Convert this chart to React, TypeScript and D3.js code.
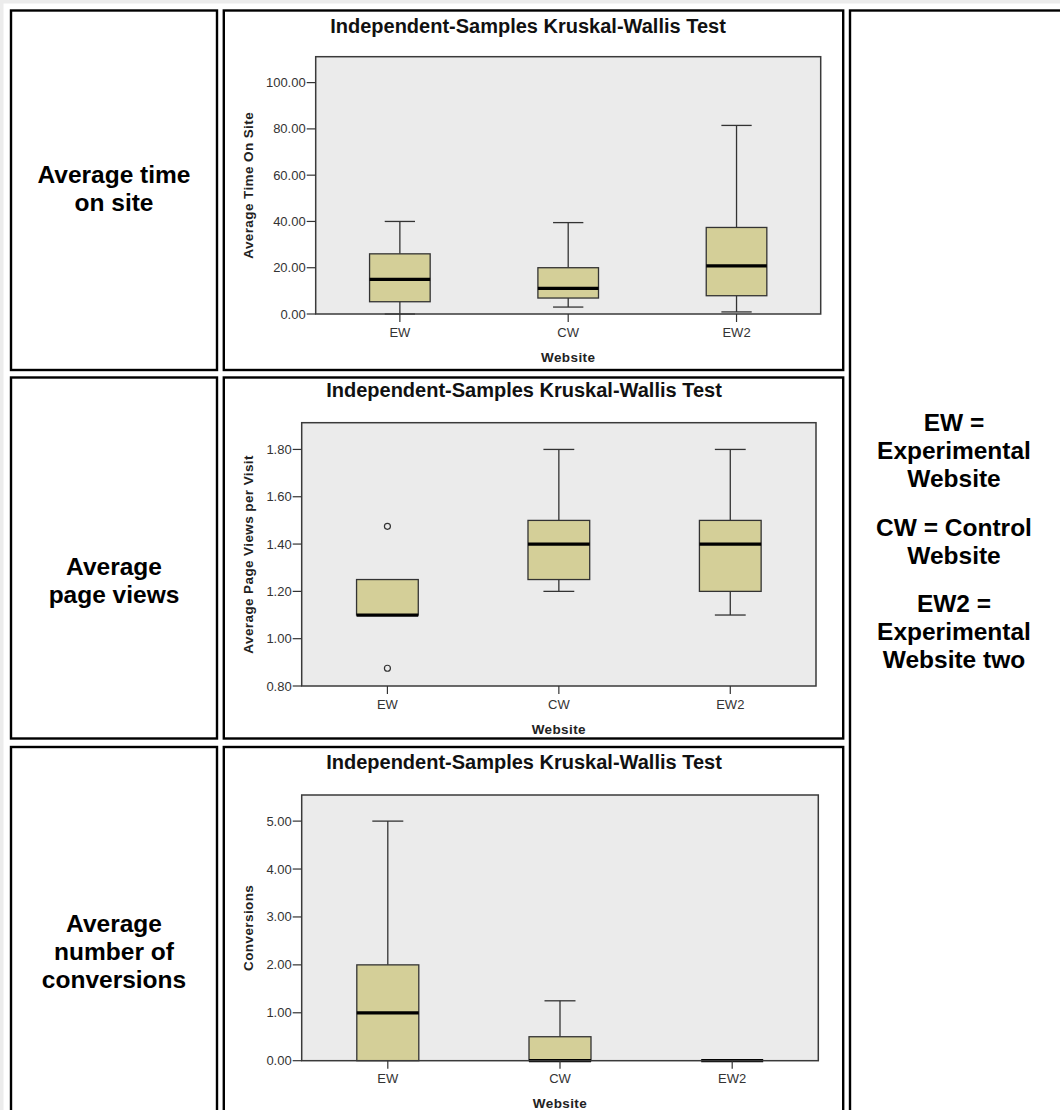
import React from "react";
import * as d3 from "d3";

const websites = ["EW", "CW", "EW2"];

// [min, q1, median, q3, max] per website
const timeOnSite = [
  [0, 5.3, 15, 26, 40],
  [3, 6.9, 11.1, 20, 39.5],
  [0.9, 7.9, 20.8, 37.4, 81.5],
];
const timeTicks = [0, 20, 40, 60, 80, 100];

const pageViews = [
  [1.1, 1.1, 1.1, 1.25, 1.25],
  [1.2, 1.25, 1.4, 1.5, 1.8],
  [1.1, 1.2, 1.4, 1.5, 1.8],
];
const pageViewOutliers = [[1.475, 0.875], [], []];
const pageViewTicks = [0.8, 1.0, 1.2, 1.4, 1.6, 1.8];

const conversions = [
  [0, 0, 1, 2, 5],
  [0, 0, 0, 0.5, 1.25],
  [0, 0, 0, 0, 0],
];
const conversionTicks = [0, 1, 2, 3, 4, 5];

const rowLabels = [
  ["Average time", "on site"],
  ["Average", "page views"],
  ["Average", "number of", "conversions"],
];
const legendLines = ["EW =", "Experimental", "Website", "", "CW = Control", "Website", "", "EW2 =", "Experimental", "Website two"];

const FONT = "'Liberation Sans', Arial, Helvetica, sans-serif";

interface BoxChartProps {
  frame: [number, number, number, number]; // x0, y0, x1, y1
  domain: [number, number];
  ticks: number[];
  stats: number[][];
  outliers?: number[][];
  yTitle: string;
  titleX: number;
  titleY: number;
}

const BoxChart: React.FC<BoxChartProps> = ({ frame, domain, ticks, stats, outliers, yTitle, titleX, titleY }) => {
  const [x0, y0, x1, y1] = frame;
  const y = d3.scaleLinear().domain(domain).range([y1, y0]);
  const x = d3.scaleBand().domain(websites).range([x0, x1]);
  const bw = x.bandwidth() * 0.36;
  const fmt = d3.format(".2f");

  return (
    <g fontFamily={FONT}>
      <text x={titleX} y={titleY} textAnchor="middle" fontSize={20} fontWeight="bold" fill="#111">
        Independent-Samples Kruskal-Wallis Test
      </text>
      <rect x={x0} y={y0} width={x1 - x0} height={y1 - y0} fill="#ebebeb" />
      {stats.map((s, i) => {
        const cx = x(websites[i])! + x.bandwidth() / 2;
        const [mn, q1, md, q3, mx] = s;
        return (
          <g key={i}>
            {mx > q3 && (
              <g stroke="#333" strokeWidth={1.3}>
                <line x1={cx} x2={cx} y1={y(q3)} y2={y(mx)} />
                <line x1={cx - bw / 4} x2={cx + bw / 4} y1={y(mx)} y2={y(mx)} />
              </g>
            )}
            {mn < q1 && (
              <g stroke="#333" strokeWidth={1.3}>
                <line x1={cx} x2={cx} y1={y(q1)} y2={y(mn)} />
                <line x1={cx - bw / 4} x2={cx + bw / 4} y1={y(mn)} y2={y(mn)} />
              </g>
            )}
            {q3 > q1 && (
              <rect x={cx - bw / 2} y={y(q3)} width={bw} height={y(q1) - y(q3)} fill="#d4cf98" stroke="#333" strokeWidth={1.3} />
            )}
            <line x1={cx - bw / 2} x2={cx + bw / 2} y1={y(md)} y2={y(md)} stroke="#000" strokeWidth={3.2} />
            {(outliers?.[i] || []).map((o, j) => (
              <circle key={j} cx={cx} cy={y(o)} r={3} fill="none" stroke="#333" strokeWidth={1.2} />
            ))}
          </g>
        );
      })}
      <rect x={x0} y={y0} width={x1 - x0} height={y1 - y0} fill="none" stroke="#3a3a3a" strokeWidth={1.5} />
      {ticks.map((t) => (
        <g key={t}>
          <line x1={x0 - 9} x2={x0} y1={y(t)} y2={y(t)} stroke="#333" strokeWidth={1.2} />
          <text x={x0 - 10} y={y(t) + 4.5} textAnchor="end" fontSize={13} fill="#333">
            {fmt(t)}
          </text>
        </g>
      ))}
      {websites.map((w) => {
        const cx = x(w)! + x.bandwidth() / 2;
        return (
          <g key={w}>
            <line x1={cx} x2={cx} y1={y1} y2={y1 + 8} stroke="#333" strokeWidth={1.2} />
            <text x={cx} y={y1 + 22.5} textAnchor="middle" fontSize={13} fill="#333">
              {w}
            </text>
          </g>
        );
      })}
      <text x={(x0 + x1) / 2} y={y1 + 47.5} textAnchor="middle" fontSize={13.5} fontWeight="bold" fill="#222" letterSpacing={0.4}>
        Website
      </text>
      <text
        transform={`translate(253,${(y0 + y1) / 2}) rotate(-90)`}
        textAnchor="middle"
        fontSize={13.5}
        fontWeight="bold"
        fill="#222"
        letterSpacing={0.4}
      >
        {yTitle}
      </text>
    </g>
  );
};

const App: React.FC = () => {
  const cellStroke = 2.4;
  const rows = [
    [10.5, 370],
    [377.5, 738.5],
    [747, 1120],
  ];
  const labelBaselines = [[183, 211], [575, 603], [932, 960, 988]];

  let ly = 431;
  const legendY = legendLines.map((l, i) => {
    if (i === 0) return ly;
    ly += l === "" ? 0 : legendLines[i - 1] === "" ? 48.5 : 28;
    return ly;
  });

  return (
    <svg width={1060} height={1110} style={{ position: "absolute", left: 0, top: 0, background: "#fff" }}>
      <rect x={0} y={0} width={1060} height={1110} fill="#fff" />
      <rect x={0} y={0} width={1060} height={3.5} fill="#ececec" />
      <rect x={0} y={0} width={3.5} height={1110} fill="#ececec" />
      {rows.map(([t, b], i) => (
        <g key={i} fill="none" stroke="#000" strokeWidth={cellStroke}>
          <rect x={11} y={t} width={206} height={b - t} />
          <rect x={223.8} y={t} width={619.4} height={b - t} />
        </g>
      ))}
      <rect x={850} y={10.5} width={230} height={1120} fill="none" stroke="#000" strokeWidth={cellStroke} />

      <g fontFamily={FONT} fontWeight="bold" fontSize={24.5} textAnchor="middle" fill="#000">
        {rowLabels.map((lines, i) =>
          lines.map((l, j) => (
            <text key={`${i}-${j}`} x={114} y={labelBaselines[i][j]}>
              {l}
            </text>
          ))
        )}
        {legendLines.map((l, i) =>
          l === "" ? null : (
            <text key={`lg${i}`} x={954} y={legendY[i]}>
              {l}
            </text>
          )
        )}
      </g>

      <BoxChart
        frame={[315.7, 56.7, 820.7, 314]}
        domain={[0, 111.2]}
        ticks={timeTicks}
        stats={timeOnSite}
        yTitle="Average Time On Site"
        titleX={528}
        titleY={32.7}
      />
      <BoxChart
        frame={[301.7, 422.7, 816, 686]}
        domain={[0.8, 1.913]}
        ticks={pageViewTicks}
        stats={pageViews}
        outliers={pageViewOutliers}
        yTitle="Average Page Views per Visit"
        titleX={524}
        titleY={397.3}
      />
      <BoxChart
        frame={[301.7, 795, 818.3, 1060.7]}
        domain={[0, 5.545]}
        ticks={conversionTicks}
        stats={conversions}
        yTitle="Conversions"
        titleX={524}
        titleY={769.3}
      />
    </svg>
  );
};

export default App;
